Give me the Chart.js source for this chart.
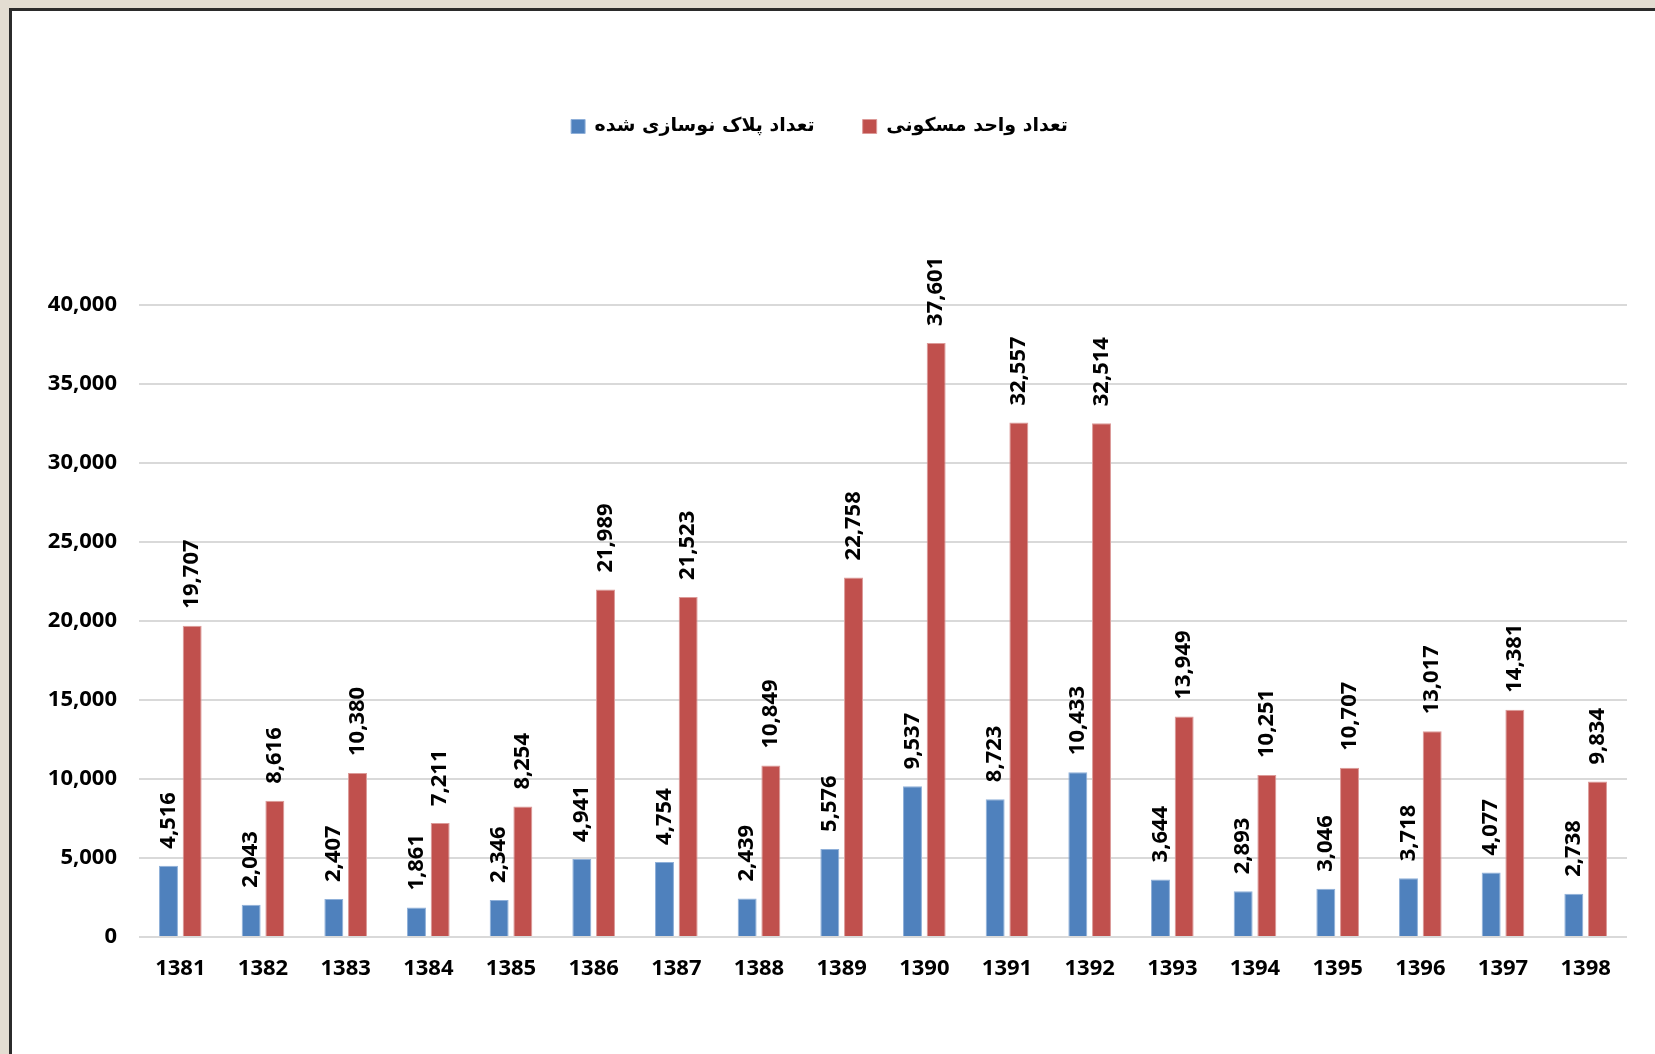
<!DOCTYPE html>
<html>
<head>
<meta charset="utf-8">
<script src="https://cdn.jsdelivr.net/npm/chart.js@4/dist/chart.umd.min.js"></script>
<style>
  html, body { margin: 0; padding: 0; background: #e3ddd2; overflow: hidden; }
  #frame {
    position: absolute; left: 9px; top: 8px; width: 1646px; height: 1046px;
    background: #fff; border-left: 3px solid #2b2b2b; border-top: 3px solid #2b2b2b;
  }
  #renewChart { display: block; }
</style>
</head>
<body>
<div id="frame"><canvas id="renewChart" width="1643" height="1043"></canvas></div>
<script>
// years (solar hijri)
const years = ["1381", "1382", "1383", "1384", "1385", "1386", "1387", "1388", "1389",
  "1390", "1391", "1392", "1393", "1394", "1395", "1396", "1397", "1398"];

// renewed plots
const plots = [4516, 2043, 2407, 1861, 2346, 4941, 4754, 2439, 5576,
  9537, 8723, 10433, 3644, 2893, 3046, 3718, 4077, 2738];

// residential units
const units = [19707, 8616, 10380, 7211, 8254, 21989, 21523, 10849, 22758,
  37601, 32557, 32514, 13949, 10251, 10707, 13017, 14381, 9834];

const plotsLabel = "تعداد پلاک نوسازی شده";
const unitsLabel = "تعداد واحد مسکونی";

const yTicks = { min: 0, max: 40000, step: 5000 };

const numFont = { family: "'Noto Sans', 'DejaVu Sans', sans-serif", size: 22, weight: "bold" };

function fmt(v) {
  return v.toLocaleString("en-US");
}

// draws the rotated value above each bar
const barValues = {
  id: "barValues",
  afterDatasetsDraw(chart) {
    const ctx = chart.ctx;
    ctx.save();
    ctx.font = "bold 22px 'Noto Sans', 'DejaVu Sans', sans-serif";
    ctx.fillStyle = "#000";
    ctx.textAlign = "left";
    ctx.textBaseline = "middle";
    chart.data.datasets.forEach((ds, i) => {
      const meta = chart.getDatasetMeta(i);
      meta.data.forEach((bar, j) => {
        ctx.save();
        ctx.translate(bar.x, bar.y - 17);
        ctx.rotate(-Math.PI / 2);
        ctx.fillText(fmt(ds.data[j]), 0, 0);
        ctx.restore();
      });
    });
    ctx.restore();
  }
};

let chart = new Chart(document.querySelector("#renewChart"), {
  type: "bar",
  data: {
    labels: years,
    datasets: [
      {
        label: plotsLabel,
        data: plots,
        backgroundColor: "#4f81bd",
        borderColor: "#8fb0d9",
        borderWidth: 1,
        categoryPercentage: 0.573,
        barPercentage: 0.8,
      },
      {
        label: unitsLabel,
        data: units,
        backgroundColor: "#c0504d",
        borderColor: "#dc9a98",
        borderWidth: 1,
        categoryPercentage: 0.573,
        barPercentage: 0.8,
      },
    ],
  },
  options: {
    responsive: false,
    animation: false,
    layout: { padding: { top: 58, right: 28, bottom: 0, left: 0 } },
    plugins: {
      legend: {
        position: "top",
        labels: {
          boxWidth: 14,
          boxHeight: 14,
          padding: 48,
          color: "#000",
          font: { family: "'DejaVu Sans', sans-serif", size: 19, weight: "bold" },
        },
      },
      // empty title used as a spacer between legend and plot
      title: {
        display: true,
        text: "",
        weight: 500,
        padding: { top: 135, bottom: 0 },
        font: { size: 20 },
      },
      tooltip: { enabled: false },
    },
    scales: {
      x: {
        grid: { display: false },
        border: { display: false },
        ticks: { color: "#000", font: numFont, padding: 11, maxRotation: 0 },
        afterFit(scale) { scale.height = 117; },
      },
      y: {
        min: yTicks.min,
        max: yTicks.max,
        grid: { color: "#d9d9d9", lineWidth: 2, drawTicks: false },
        border: { display: false },
        ticks: {
          stepSize: yTicks.step,
          color: "#000",
          font: numFont,
          padding: 22,
          callback: (v) => fmt(v),
        },
        afterFit(scale) { scale.width = 127; },
      },
    },
  },
  plugins: [barValues],
});
</script>
</body>
</html>
